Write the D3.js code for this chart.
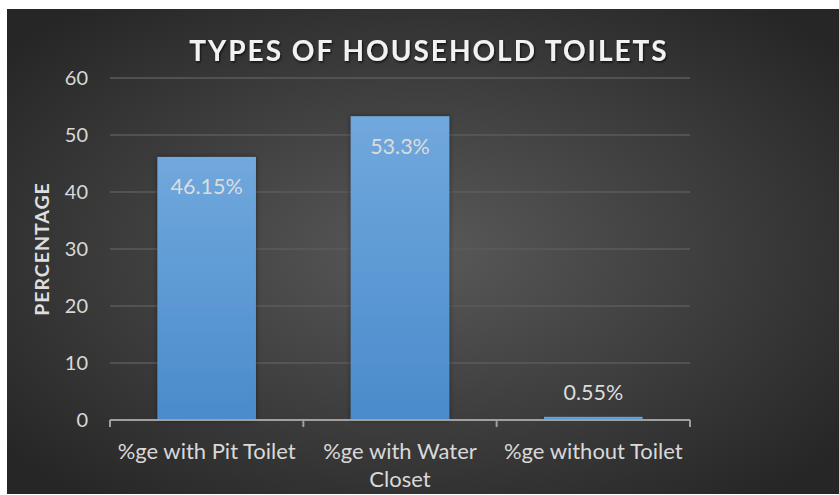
<!DOCTYPE html>
<html><head><meta charset="utf-8">
<script src="https://cdn.jsdelivr.net/npm/d3@7"></script>
<style>html,body{margin:0;padding:0;background:#fff;}svg{display:block;}</style>
</head><body>
<svg id="c" width="839" height="495"></svg>
<script>
const categories = [["%ge with Pit Toilet"], ["%ge with Water", "Closet"], ["%ge without Toilet"]];
const values = [46.15, 53.3, 0.55];
const valueLabels = ["46.15%", "53.3%", "0.55%"];
const yTicks = [0, 10, 20, 30, 40, 50, 60];
const title = "TYPES OF HOUSEHOLD TOILETS";
const yTitle = "PERCENTAGE";

(function(){
const svg = d3.select("#c");
const defs = svg.append("defs");
const rg = defs.append("radialGradient").attr("id","bg").attr("cx","50%").attr("cy","50%").attr("r","65%");
rg.append("stop").attr("offset","0%").attr("stop-color","#595959");
rg.append("stop").attr("offset","100%").attr("stop-color","#262626");
const lg = defs.append("linearGradient").attr("id","bar").attr("x1",0).attr("y1",0).attr("x2",0).attr("y2",1);
lg.append("stop").attr("offset","0%").attr("stop-color","#71a8dd");
lg.append("stop").attr("offset","100%").attr("stop-color","#4a8bcb");
const sh = defs.append("filter").attr("id","sh").attr("x","-20%").attr("y","-20%").attr("width","140%").attr("height","140%");
sh.append("feDropShadow").attr("dx",0).attr("dy",0).attr("stdDeviation",2.5).attr("flood-color","#000").attr("flood-opacity",0.45);
const ts = defs.append("filter").attr("id","ts").attr("x","-10%").attr("y","-30%").attr("width","120%").attr("height","160%");
ts.append("feDropShadow").attr("dx",1).attr("dy",1.5).attr("stdDeviation",1.2).attr("flood-color","#000").attr("flood-opacity",0.7);

svg.append("rect").attr("x",7).attr("y",9).attr("width",832).attr("height",485).attr("fill","url(#bg)");

const pl = 110, pr = 690, pt = 78, pb = 420;
const x = d3.scaleBand().domain(d3.range(categories.length)).range([pl, pr]).paddingInner(0.49).paddingOuter(0.245);
const y = d3.scaleLinear().domain([0, 60]).range([pb, pt]);

const font = "Lato, 'Open Sans', sans-serif";

svg.append("g").selectAll("line").data(yTicks.filter(d => d > 0)).join("line")
  .attr("x1", pl).attr("x2", pr).attr("y1", d => y(d)).attr("y2", d => y(d))
  .attr("stroke", "#5b5b5b").attr("stroke-width", 1.5);

svg.append("g").selectAll("text").data(yTicks).join("text")
  .attr("x", 88).attr("y", d => y(d)).attr("dy", "0.35em").attr("text-anchor","end")
  .attr("font-family", font).attr("font-size", 20).attr("fill", "#d9d9d9").text(d => d);

svg.append("g").selectAll("rect").data(values).join("rect")
  .attr("x", (d,i) => x(i)).attr("width", x.bandwidth())
  .attr("y", d => y(d)).attr("height", d => pb - y(d))
  .attr("fill", "url(#bar)").attr("filter","url(#sh)");

const step = (pr - pl) / categories.length;
const boundaries = d3.range(categories.length + 1).map(i => pl + i * step);
svg.append("line").attr("x1", pl).attr("x2", pr).attr("y1", pb).attr("y2", pb)
  .attr("stroke", "#a0a0a0").attr("stroke-width", 2);
svg.append("g").selectAll("line").data(boundaries).join("line")
  .attr("x1", d => d).attr("x2", d => d).attr("y1", pb).attr("y2", pb + 7)
  .attr("stroke", "#a0a0a0").attr("stroke-width", 2);

svg.append("g").selectAll("text").data(values).join("text")
  .attr("x", (d,i) => x(i) + x.bandwidth()/2)
  .attr("y", d => d > 5 ? y(d) + 30 : y(d) - 24)
  .attr("dy","0.35em").attr("text-anchor","middle")
  .attr("font-family", font).attr("font-size", 21.5).attr("fill", "#dcdcdc")
  .text((d,i) => valueLabels[i]);

const cl = svg.append("g").selectAll("text").data(categories).join("text")
  .attr("x", (d,i) => x(i) + x.bandwidth()/2).attr("y", 459).attr("text-anchor","middle")
  .attr("font-family", font).attr("font-size", 22).attr("fill", "#d9d9d9");
cl.selectAll("tspan").data(d => d).join("tspan")
  .attr("x", function(){ return this.parentNode.getAttribute("x"); })
  .attr("dy", (d,i) => i === 0 ? 0 : 28).text(d => d);

svg.append("text").attr("transform","translate(49,249) rotate(-90)").attr("text-anchor","middle")
  .attr("font-family", font).attr("font-size", 19.5).attr("font-weight", "bold").attr("fill","#dedede")
  .attr("letter-spacing", 1).text(yTitle);

svg.append("text").attr("x", 429).attr("y", 61).attr("text-anchor","middle")
  .attr("font-family", font).attr("font-size", 28).attr("font-weight","bold").attr("fill","#f2f2f2")
  .attr("letter-spacing", 2).attr("filter","url(#ts)").text(title);
})();
</script>
</body></html>
